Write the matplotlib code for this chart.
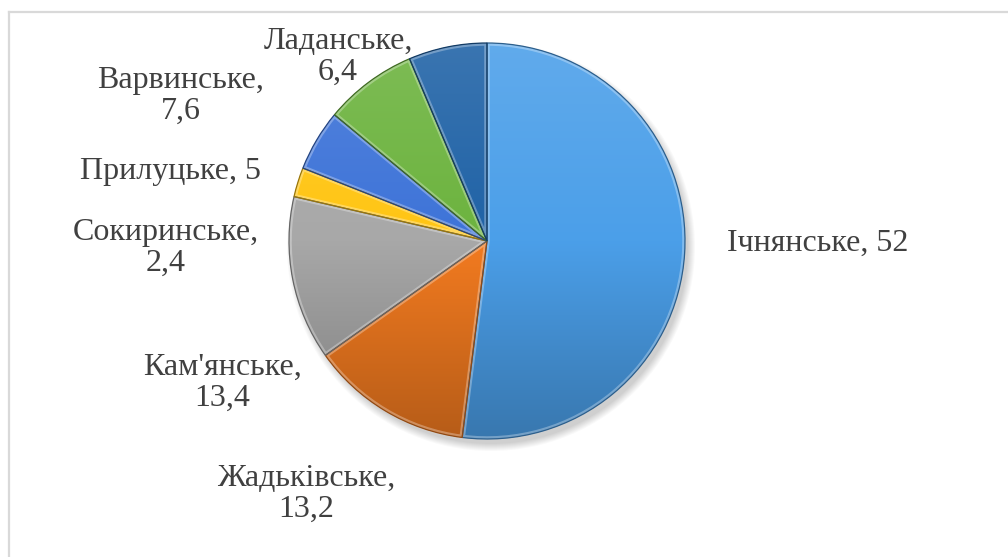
import numpy as np
import matplotlib
matplotlib.use('Agg')
import matplotlib.pyplot as plt
from matplotlib.colors import LinearSegmentedColormap, to_rgb
from matplotlib.patches import Circle, PathPatch
from matplotlib.lines import Line2D

plt.rc('font', family='Liberation Serif', size=23)

names = ['Ічнянське', 'Жадьківське', "Кам'янське", 'Сокиринське', 'Прилуцьке', 'Варвинське', 'Ладанське']
values = [52, 13.2, 13.4, 2.4, 5, 7.6, 6.4]
colors = ['#4b9fe9', '#f37b20', '#a8a8a8', '#ffc513', '#3d73d8', '#6cb33e', '#1f62a6']

# label anchor points (pixels from top-left) and whether the value goes on a new line
label_pos = [(818, 243), (306, 494), (222, 383), (166, 248), (170, 172), (181, 96), (338, 57)]
two_lines = [False, True, True, True, False, True, True]

W, H = 1008, 557
fig = plt.figure(figsize=(W / 100, H / 100), dpi=100)
ax = fig.add_axes([0, 0, 1, 1])

cx, cy, r = 487, H - 241, 198


def shade(c, k):
    c = np.array(to_rgb(c))
    if k > 0:
        return tuple(c + (1 - c) * k)
    return tuple(c * (1 + k))


# soft drop shadow under the pie
for i in range(8):
    ax.add_patch(Circle((cx + 4, cy - 6), r + 6 - i, color='black', alpha=0.025, lw=0, zorder=0))

wedges, _ = ax.pie(values, colors=colors, startangle=90, counterclock=False,
                   center=(cx, cy), radius=r, frame=True,
                   wedgeprops=dict(linewidth=0))
ax.set_xlim(0, W)
ax.set_ylim(0, H)
ax.set_aspect('equal')
ax.axis('off')

# vertical gradient per slice: lighter on top, darker at the bottom
yy = np.linspace(0, 1, 256).reshape(-1, 1)
grad = np.repeat(yy, 2, axis=1)
for w, c in zip(wedges, colors):
    cmap = LinearSegmentedColormap.from_list('g', [shade(c, -0.25), c, shade(c, 0.12)])
    im = ax.imshow(grad, cmap=cmap, origin='lower', extent=[cx - r, cx + r, cy - r, cy + r],
                   aspect='auto', zorder=2, interpolation='bilinear')
    im.set_clip_path(w)
    # bevel: light inner rim and dark outline
    rim = PathPatch(w.get_path(), transform=w.get_transform(), fill=False,
                    edgecolor='white', alpha=0.3, lw=4, zorder=3)
    ax.add_patch(rim)
    rim.set_clip_path(w)
    edge = PathPatch(w.get_path(), transform=w.get_transform(), fill=False,
                     edgecolor=shade(c, -0.4), lw=0.9, zorder=4)
    ax.add_patch(edge)

for name, v, (x, y), tl in zip(names, values, label_pos, two_lines):
    val = ('%g' % v).replace('.', ',')
    txt = name + (',\n' if tl else ', ') + val
    ax.text(x, H - y, txt, ha='center', va='center', multialignment='center',
            color='#404040', linespacing=1.1, zorder=5)

# chart area frame (only top and left edges fall inside the image)
ax.add_line(Line2D([9, W], [H - 11.5, H - 11.5], color='#d9d9d9', lw=1.6, zorder=6))
ax.add_line(Line2D([9, 9], [0, H - 11.5], color='#d9d9d9', lw=1.6, zorder=6))

fig.savefig('out.png', dpi=100)
